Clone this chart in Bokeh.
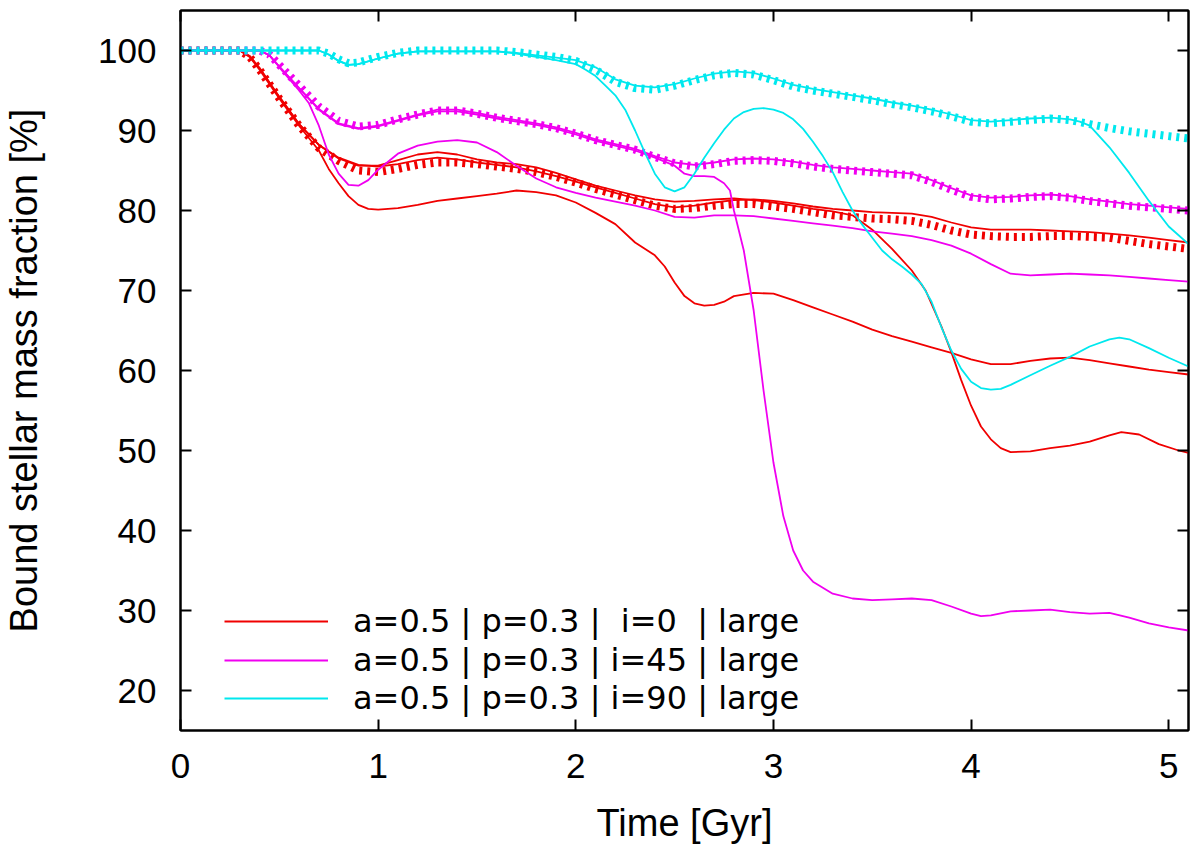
from bokeh.plotting import figure
from bokeh.models import LinearAxis, FixedTicker, Range1d, Legend, LegendItem
from bokeh.embed import file_html
from bokeh.resources import INLINE

# time [Gyr], bound stellar mass fraction [%]
red_dot = [(0, 100), (0.3, 100), (0.35, 99.2), (0.4, 97.6), (0.5, 94.0), (0.6, 90.6), (0.7, 87.8),
           (0.8, 86.2), (0.9, 85.0), (1.0, 84.8), (1.1, 85.2), (1.2, 85.7), (1.3, 86.0), (1.4, 86.0),
           (1.5, 85.8), (1.6, 85.5), (1.7, 85.2), (1.8, 84.8), (1.9, 84.2), (2.0, 83.5), (2.1, 82.7),
           (2.2, 82.0), (2.3, 81.3), (2.4, 80.6), (2.5, 80.2), (2.6, 80.3), (2.7, 80.6), (2.8, 80.8),
           (2.9, 80.8), (3.0, 80.5), (3.1, 80.2), (3.2, 79.8), (3.3, 79.4), (3.4, 79.2), (3.5, 79.0),
           (3.6, 78.9), (3.7, 78.7), (3.8, 78.2), (3.9, 77.5), (4.0, 77.0), (4.1, 76.8), (4.2, 76.7),
           (4.3, 76.7), (4.4, 76.8), (4.5, 76.8), (4.6, 76.7), (4.7, 76.6), (4.8, 76.2), (4.9, 75.8),
           (5.0, 75.5), (5.1, 75.2)]
red_a = [(0, 100), (0.3, 100), (0.35, 99.3), (0.4, 97.8), (0.5, 94.2), (0.6, 90.8), (0.7, 88.2),
         (0.8, 86.6), (0.9, 85.7), (1.0, 85.5), (1.1, 85.8), (1.2, 86.3), (1.3, 86.6), (1.4, 86.4),
         (1.5, 86.0), (1.6, 85.7), (1.7, 85.4), (1.8, 84.9), (1.9, 84.3), (2.0, 83.6), (2.1, 82.9),
         (2.2, 82.2), (2.3, 81.5), (2.4, 80.8), (2.5, 80.4), (2.6, 80.6), (2.7, 81.0), (2.8, 81.3),
         (2.9, 81.4), (3.0, 81.2), (3.1, 80.9), (3.2, 80.5), (3.3, 80.2), (3.4, 80.0), (3.5, 79.8),
         (3.6, 79.7), (3.7, 79.6), (3.8, 79.2), (3.9, 78.5), (4.0, 77.9), (4.1, 77.6), (4.2, 77.6),
         (4.3, 77.6), (4.4, 77.5), (4.5, 77.4), (4.6, 77.3), (4.7, 77.1), (4.8, 76.9), (4.9, 76.6),
         (5.0, 76.3), (5.1, 76.0)]
red_b = [(0, 100), (0.3, 100), (0.35, 99.2), (0.4, 97.6), (0.5, 94.0), (0.6, 90.6), (0.7, 87.5),
         (0.75, 85.2), (0.8, 83.4), (0.85, 81.8), (0.9, 80.7), (0.95, 80.2), (1.0, 80.1), (1.1, 80.3),
         (1.2, 80.7), (1.3, 81.2), (1.4, 81.5), (1.5, 81.8), (1.6, 82.1), (1.7, 82.5), (1.8, 82.3),
         (1.9, 81.9), (2.0, 81.0), (2.1, 79.7), (2.2, 78.3), (2.3, 76.0), (2.4, 74.4), (2.45, 73.0),
         (2.5, 71.0), (2.55, 69.3), (2.6, 68.4), (2.65, 68.1), (2.7, 68.2), (2.75, 68.6), (2.8, 69.3),
         (2.9, 69.7), (3.0, 69.6), (3.1, 68.8), (3.2, 67.9), (3.3, 67.0), (3.4, 66.1), (3.5, 65.1),
         (3.6, 64.3), (3.7, 63.6), (3.8, 62.9), (3.9, 62.2), (4.0, 61.4), (4.1, 60.8), (4.2, 60.8),
         (4.3, 61.2), (4.4, 61.5), (4.5, 61.6), (4.6, 61.3), (4.7, 60.9), (4.8, 60.5), (4.9, 60.1),
         (5.0, 59.8), (5.1, 59.5)]
red_c = [(0, 100), (0.3, 100), (0.35, 99.3), (0.4, 97.8), (0.5, 94.2), (0.6, 90.8), (0.7, 88.2),
         (0.8, 86.5), (0.9, 85.6), (1.0, 85.6), (1.1, 86.3), (1.2, 87.0), (1.3, 87.3), (1.4, 87.0),
         (1.5, 86.4), (1.6, 86.0), (1.7, 85.8), (1.8, 85.4), (1.9, 84.7), (2.0, 83.9), (2.1, 83.1),
         (2.2, 82.5), (2.3, 81.9), (2.4, 81.4), (2.5, 81.1), (2.6, 81.2), (2.7, 81.4), (2.8, 81.5),
         (2.9, 81.3), (3.0, 81.0), (3.1, 80.6), (3.2, 80.2), (3.3, 79.9), (3.4, 79.4), (3.5, 77.6),
         (3.6, 75.2), (3.7, 72.5), (3.77, 70.0), (3.85, 65.5), (3.9, 62.3), (3.95, 58.8), (4.0, 55.6),
         (4.05, 53.0), (4.1, 51.4), (4.15, 50.3), (4.2, 49.8), (4.3, 49.9), (4.4, 50.3), (4.5, 50.6),
         (4.6, 51.1), (4.7, 51.9), (4.76, 52.3), (4.85, 52.0), (4.95, 50.8), (5.05, 50.0), (5.1, 49.7)]

mag_dot = [(0, 100), (0.4, 100), (0.45, 99.5), (0.5, 98.2), (0.6, 95.6), (0.7, 93.0), (0.8, 91.2),
           (0.9, 90.5), (1.0, 90.7), (1.1, 91.4), (1.2, 92.0), (1.3, 92.5), (1.4, 92.5), (1.5, 92.1),
           (1.6, 91.6), (1.7, 91.2), (1.8, 90.8), (1.9, 90.3), (2.0, 89.6), (2.1, 88.8), (2.2, 88.2),
           (2.3, 87.6), (2.4, 86.7), (2.5, 85.9), (2.6, 85.5), (2.7, 85.8), (2.8, 86.2), (2.9, 86.3),
           (3.0, 86.2), (3.1, 85.9), (3.2, 85.5), (3.3, 85.2), (3.4, 85.0), (3.5, 84.8), (3.6, 84.6),
           (3.7, 84.4), (3.8, 83.6), (3.9, 82.6), (4.0, 81.7), (4.1, 81.4), (4.2, 81.5), (4.3, 81.7),
           (4.4, 81.8), (4.5, 81.6), (4.6, 81.2), (4.7, 80.9), (4.8, 80.6), (4.9, 80.4), (5.0, 80.2),
           (5.1, 80.0)]
mag_c = [(0, 100), (0.4, 100), (0.45, 99.4), (0.5, 98.0), (0.6, 95.3), (0.7, 92.7), (0.8, 90.9),
         (0.9, 90.3), (1.0, 90.6), (1.1, 91.3), (1.2, 92.0), (1.3, 92.6), (1.4, 92.6), (1.5, 92.2),
         (1.6, 91.7), (1.7, 91.3), (1.8, 90.9), (1.9, 90.4), (2.0, 89.7), (2.1, 88.9), (2.2, 88.3),
         (2.3, 87.7), (2.4, 86.8), (2.5, 86.0), (2.6, 85.7), (2.7, 86.0), (2.8, 86.4), (2.9, 86.5),
         (3.0, 86.4), (3.1, 86.1), (3.2, 85.7), (3.3, 85.4), (3.4, 85.2), (3.5, 85.0), (3.6, 84.8),
         (3.7, 84.6), (3.8, 83.8), (3.9, 82.8), (4.0, 81.9), (4.1, 81.6), (4.2, 81.7), (4.3, 81.9),
         (4.4, 82.0), (4.5, 81.8), (4.6, 81.4), (4.7, 81.1), (4.8, 80.8), (4.9, 80.6), (5.0, 80.4),
         (5.1, 80.2)]
mag_a = [(0, 100), (0.4, 100), (0.45, 99.4), (0.5, 98.0), (0.6, 95.3), (0.7, 92.6), (0.8, 90.8),
         (0.9, 90.2), (1.0, 90.5), (1.1, 91.2), (1.2, 91.9), (1.3, 92.4), (1.4, 92.4), (1.5, 92.0),
         (1.6, 91.5), (1.7, 91.1), (1.8, 90.7), (1.9, 90.2), (2.0, 89.5), (2.1, 88.7), (2.2, 88.1),
         (2.3, 87.5), (2.4, 86.6), (2.5, 85.6), (2.55, 84.6), (2.6, 84.3), (2.65, 84.3), (2.7, 84.2),
         (2.75, 83.4), (2.78, 82.5), (2.8, 80.0), (2.85, 75.0), (2.9, 67.5), (2.95, 57.5), (3.0, 48.5),
         (3.05, 41.8), (3.1, 37.5), (3.15, 35.0), (3.2, 33.6), (3.3, 32.1), (3.4, 31.5), (3.5, 31.3),
         (3.6, 31.4), (3.7, 31.5), (3.8, 31.3), (3.9, 30.5), (4.0, 29.6), (4.05, 29.3), (4.1, 29.4),
         (4.2, 29.9), (4.3, 30.0), (4.4, 30.1), (4.5, 29.8), (4.6, 29.6), (4.7, 29.7), (4.8, 29.1),
         (4.9, 28.4), (5.0, 27.9), (5.1, 27.5)]
mag_b = [(0, 100), (0.4, 100), (0.45, 99.4), (0.5, 97.9), (0.6, 95.0), (0.65, 93.4), (0.7, 90.6),
         (0.75, 87.0), (0.8, 84.6), (0.85, 83.2), (0.9, 83.1), (0.95, 83.8), (1.0, 85.1), (1.1, 87.1),
         (1.2, 88.1), (1.3, 88.6), (1.4, 88.8), (1.5, 88.5), (1.6, 87.3), (1.7, 85.6), (1.8, 84.0),
         (1.9, 82.9), (2.0, 82.2), (2.1, 81.6), (2.2, 81.1), (2.3, 80.6), (2.4, 80.0), (2.5, 79.2),
         (2.6, 79.1), (2.7, 79.4), (2.8, 79.4), (2.9, 79.3), (3.0, 79.0), (3.1, 78.7), (3.2, 78.4),
         (3.3, 78.1), (3.4, 77.8), (3.5, 77.4), (3.6, 77.1), (3.7, 76.8), (3.8, 76.3), (3.9, 75.6),
         (4.0, 74.6), (4.1, 73.3), (4.2, 72.1), (4.3, 71.9), (4.4, 72.0), (4.5, 72.1), (4.6, 72.0),
         (4.7, 71.9), (4.8, 71.7), (4.9, 71.5), (5.0, 71.3), (5.1, 71.1)]

cyan_dot = [(0, 100), (0.7, 100), (0.75, 99.6), (0.8, 98.9), (0.85, 98.4), (0.9, 98.5), (1.0, 99.2),
            (1.1, 99.7), (1.2, 100), (1.6, 100), (1.7, 99.8), (1.8, 99.5), (1.9, 99.2), (2.0, 98.7),
            (2.1, 97.6), (2.2, 96.1), (2.3, 95.3), (2.4, 95.1), (2.5, 95.6), (2.6, 96.3), (2.7, 96.9),
            (2.8, 97.2), (2.9, 97.0), (3.0, 96.3), (3.1, 95.5), (3.2, 95.0), (3.3, 94.6), (3.4, 94.2),
            (3.5, 93.8), (3.6, 93.3), (3.7, 92.9), (3.8, 92.4), (3.9, 91.8), (4.0, 91.1), (4.1, 90.9),
            (4.2, 91.1), (4.3, 91.3), (4.4, 91.5), (4.5, 91.3), (4.6, 90.8), (4.7, 90.3), (4.8, 89.9),
            (4.9, 89.6), (5.0, 89.3), (5.1, 89.0)]
cyan_a = [(0, 100), (0.7, 100), (0.75, 99.5), (0.8, 98.7), (0.85, 98.2), (0.9, 98.3), (1.0, 99.0),
          (1.1, 99.6), (1.2, 99.9), (1.6, 99.9), (1.7, 99.7), (1.8, 99.4), (1.9, 99.1), (2.0, 98.8),
          (2.1, 97.9), (2.2, 96.4), (2.3, 95.6), (2.4, 95.4), (2.5, 95.8), (2.6, 96.5), (2.7, 97.1),
          (2.8, 97.4), (2.9, 97.2), (3.0, 96.5), (3.1, 95.7), (3.2, 95.2), (3.3, 94.8), (3.4, 94.4),
          (3.5, 94.0), (3.6, 93.5), (3.7, 93.1), (3.8, 92.6), (3.9, 92.0), (4.0, 91.3), (4.1, 91.1),
          (4.2, 91.3), (4.3, 91.5), (4.4, 91.6), (4.5, 91.4), (4.55, 91.1), (4.6, 90.6), (4.7, 87.9),
          (4.8, 84.7), (4.9, 81.2), (5.0, 78.0), (5.1, 75.8)]
cyan_b = [(0, 100), (0.7, 100), (0.75, 99.5), (0.8, 98.7), (0.85, 98.2), (0.9, 98.3), (1.0, 99.0),
          (1.1, 99.6), (1.2, 99.9), (1.6, 99.9), (1.7, 99.6), (1.8, 99.2), (1.9, 98.8), (2.0, 98.3),
          (2.05, 97.6), (2.1, 96.8), (2.15, 95.6), (2.2, 94.4), (2.25, 92.6), (2.3, 90.0), (2.35, 87.2),
          (2.4, 84.6), (2.45, 82.9), (2.5, 82.4), (2.55, 82.9), (2.6, 84.6), (2.65, 86.6), (2.7, 88.4),
          (2.75, 90.1), (2.8, 91.5), (2.85, 92.3), (2.9, 92.7), (2.95, 92.8), (3.0, 92.6), (3.05, 92.2),
          (3.1, 91.4), (3.15, 90.2), (3.2, 88.6), (3.25, 86.8), (3.3, 84.8), (3.35, 82.3), (3.4, 80.0),
          (3.45, 78.2), (3.5, 76.6), (3.55, 75.0), (3.6, 73.9), (3.65, 73.0), (3.7, 72.0), (3.75, 70.8),
          (3.8, 68.6), (3.85, 65.4), (3.9, 62.5), (3.95, 60.2), (4.0, 58.6), (4.05, 57.8), (4.1, 57.6),
          (4.15, 57.7), (4.2, 58.2), (4.3, 59.4), (4.4, 60.6), (4.5, 61.7), (4.6, 63.0), (4.7, 63.9),
          (4.75, 64.1), (4.8, 63.9), (4.9, 62.8), (5.0, 61.6), (5.1, 60.5)]

labels = ["a=0.5 | p=0.3 | \u00a0i=0\u00a0 | large",
          "a=0.5 | p=0.3 | i=45 | large",
          "a=0.5 | p=0.3 | i=90 | large"]
x_ticks = [0, 1, 2, 3, 4, 5]
y_ticks = [20, 30, 40, 50, 60, 70, 80, 90, 100]

RED, MAG, CYAN = "#f00000", "#f000f0", "#00e8ee"
FONT = "Liberation Sans"

p = figure(width=1190, height=848, x_range=Range1d(0, 5.1), y_range=Range1d(15, 105),
           output_backend="svg", toolbar_location=None,
           min_border_left=172, min_border_right=2, min_border_top=10, min_border_bottom=118)
p.grid.visible = False
p.outline_line_color = "black"
p.outline_line_width = 2


def xy(series):
    return [s[0] for s in series], [s[1] for s in series]


legend_renderers = []
for color, dot, thins in [(RED, red_dot, [red_a, red_b, red_c]),
                          (MAG, mag_dot, [mag_c, mag_a, mag_b]),
                          (CYAN, cyan_dot, [cyan_a, cyan_b])]:
    x, y = xy(dot)
    p.line(x, y, line_color=color, line_width=8, line_dash="3 5", line_cap="butt")
    first = None
    for s in thins:
        x, y = xy(s)
        r = p.line(x, y, line_color=color, line_width=1.8)
        first = first or r
    legend_renderers.append(first)

bottom = p.below[0]
left = p.left[0]
bottom.ticker = FixedTicker(ticks=x_ticks)
left.ticker = FixedTicker(ticks=y_ticks)
bottom.axis_label = "Time [Gyr]"
left.axis_label = "Bound stellar mass fraction [%]"
bottom.major_label_standoff = 23
left.major_label_standoff = 24
bottom.axis_label_standoff = 21
left.axis_label_standoff = 50
for ax in (bottom, left):
    ax.major_label_text_font = FONT
    ax.major_label_text_font_size = "35px"
    ax.major_label_text_color = "black"
    ax.axis_label_text_font = FONT
    ax.axis_label_text_font_style = "normal"
    ax.axis_label_text_font_size = "38px"
    ax.axis_label_text_color = "black"

# mirrored ticks on the top and right edges, no labels
right = LinearAxis(ticker=FixedTicker(ticks=y_ticks),
                   major_label_overrides={t: "" for t in y_ticks})
top = LinearAxis(ticker=FixedTicker(ticks=x_ticks),
                 major_label_overrides={t: "" for t in x_ticks})
p.add_layout(right, "right")
p.add_layout(top, "above")
for ax in (right, top):
    ax.major_label_standoff = 0

for ax in (bottom, left, right, top):
    ax.major_tick_in = 11
    ax.major_tick_out = 0
    ax.major_tick_line_width = 2
    ax.minor_tick_line_color = None
    ax.axis_line_width = 2

# one legend per row so the row pitch matches the reference
for label, r, y_off in zip(labels, legend_renderers, [90, 51, 13]):
    legend = Legend(items=[LegendItem(label=label, renderers=[r])], location=(44, y_off))
    legend.label_text_font = "DejaVu Sans"
    legend.label_text_font_size = "32px"
    legend.label_text_color = "black"
    legend.glyph_width = 104
    legend.glyph_height = 38
    legend.label_height = 38
    legend.label_standoff = 25
    legend.padding = 0
    legend.margin = 0
    legend.border_line_color = None
    legend.background_fill_alpha = 0
    p.add_layout(legend)

open("out.html", "w").write(file_html(p, INLINE))
